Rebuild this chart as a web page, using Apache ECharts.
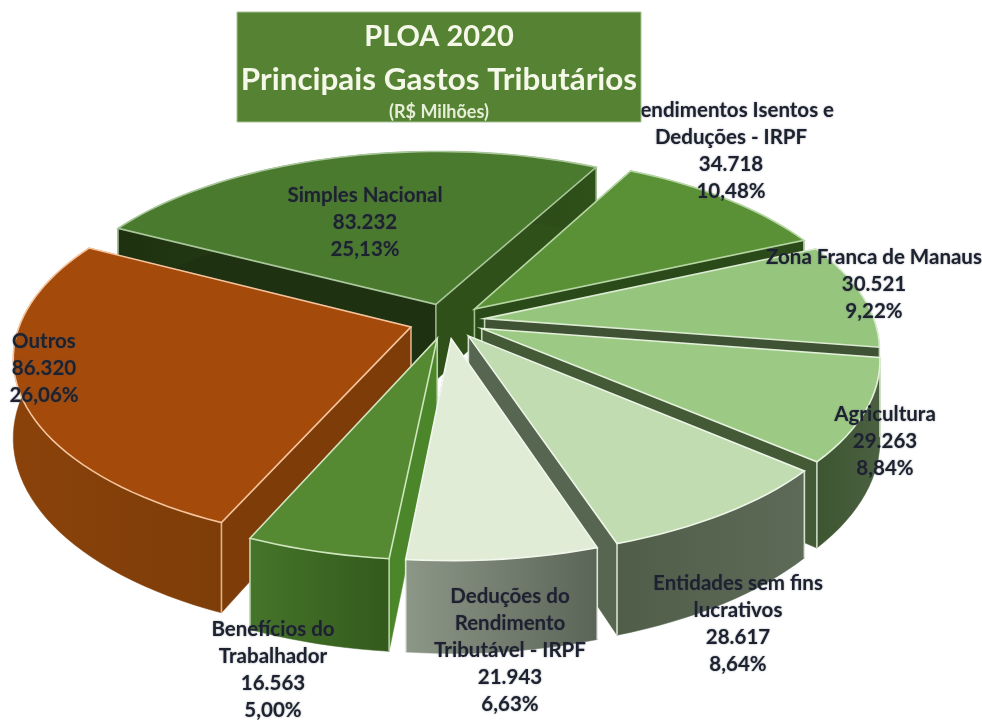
<!DOCTYPE html>
<html>
<head>
<meta charset="utf-8">
<title>PLOA 2020 - Principais Gastos Tributários</title>
<script src="https://cdn.jsdelivr.net/npm/echarts@6/dist/echarts.min.js"></script>
<style>html,body{margin:0;padding:0;background:#fff}#chart{width:982px;height:720px}</style>
</head>
<body>
<div id="chart"></div>
<script>
// Slices in clockwise order, R$ millions
const categories = ['Simples Nacional', 'Rendimentos Isentos e\nDeduções - IRPF', 'Zona Franca de Manaus', 'Agricultura',
  'Entidades sem fins\nlucrativos', 'Deduções do\nRendimento\nTributável - IRPF', 'Benefícios do\nTrabalhador', 'Outros'];
const values = [83232, 34718, 30521, 29263, 28617, 21943, 16563, 86320];
const percentLabels = ['25,13%', '10,48%', '9,22%', '8,84%', '8,64%', '6,63%', '5,00%', '26,06%'];

// Face colours of each slice
const topColors = ['#4a7a2e', '#5a9036', '#96c57e', '#9cca85', '#c1dcb1', '#e0ecd6', '#558a33', '#a44a0b'];
const edgeColors = ['#a9c79a', '#b5d6a2', '#dcecd2', '#e4f1db', '#eef6e8', '#f2f7ee', '#cfe6bf', '#f5c49d'];
const radialColors = [['#1e3110', '#2f5019'], ['#2a4a19', '#2a4a19'], ['#3f5233', '#3f5233'], ['#445a37', '#445a37'],
  ['#566650', '#566650'], ['#8a9484', '#5c6658'], ['#4c862a', '#4c862a'], ['#7d3c08', '#7d3c08']];
const rimColors = [['#1e3110', '#2f5019'], ['#2a4a19', '#2a4a19'], ['#3f5233', '#3f5233'], ['#3e5531', '#4a6040'],
  ['#505e49', '#5d6a57'], ['#8d9788', '#5b6557'], ['#45752a', '#335a1c'], ['#8a420a', '#7e3d08']];

// Label centres in pixels
const labelCentres = [[365, 222], [731, 151], [874, 284], [885, 441], [738, 624], [510, 650], [273, 670], [44, 368]];

// Pie geometry
const centreX = 447, centreY = 321, radius = 390, tilt = 0.465, perspective = 0.155;
const depth = 77, explode = 38, firstAngle = 297.5;

const formatValue = v => String(v).replace(/\B(?=(\d{3})+$)/g, '.');
const project = (x, y, z) => {
  const f = 1 / (1 + perspective * y / radius);
  return [centreX + x * f, centreY - y * tilt * f + z * f];
};

const total = values.reduce((a, b) => a + b, 0);
let running = firstAngle;
const slices = values.map((v, i) => {
  const sweep = v / total * 360;
  const s = { index: i, start: running, end: running + sweep, mid: running + sweep / 2 };
  running += sweep;
  return s;
});
// Slices further back are painted first
const paintOrder = slices.slice()
  .sort((a, b) => Math.cos(b.mid * Math.PI / 180) - Math.cos(a.mid * Math.PI / 180))
  .map(s => s.index);

function sliceGeometry(s, z) {
  const m = s.mid * Math.PI / 180;
  const ox = explode * Math.sin(m), oy = explode * Math.cos(m);
  const arc = [];
  const steps = Math.ceil((s.end - s.start) / 2);
  for (let k = 0; k <= steps; k++) {
    const a = (s.start + (s.end - s.start) * k / steps) * Math.PI / 180;
    arc.push(project(ox + radius * Math.sin(a), oy + radius * Math.cos(a), z));
  }
  return { apex: project(ox, oy, z), arc };
}

const gradient = pair => new echarts.graphic.LinearGradient(0, 0, 1, 0, [
  { offset: 0, color: pair[0] }, { offset: 1, color: pair[1] }
]);

function renderSlice(params, api) {
  const i = api.value(0);
  const s = slices[i];
  const up = sliceGeometry(s, 0), down = sliceGeometry(s, depth);
  const edge = edgeColors[i];
  const last = up.arc.length - 1;
  const flat = (pts, fill) => ({
    type: 'polygon', shape: { points: pts },
    style: { fill, stroke: fill, lineWidth: 0.5 }
  });
  const line = (a, b) => ({
    type: 'polyline', shape: { points: [a, b] },
    style: { stroke: edge, lineWidth: 1.6, fill: 'none', opacity: 0.85 }
  });
  return {
    type: 'group',
    children: [
      flat([up.apex, up.arc[0], down.arc[0], down.apex], radialColors[i][0]),
      flat([up.apex, up.arc[last], down.arc[last], down.apex], radialColors[i][1]),
      flat(up.arc.concat(down.arc.slice().reverse()), gradient(rimColors[i])),
      line(up.apex, down.apex),
      line(up.arc[0], down.arc[0]),
      line(up.arc[last], down.arc[last]),
      {
        type: 'polygon', shape: { points: [up.apex].concat(up.arc) },
        style: { fill: topColors[i], stroke: edge, lineWidth: 1.6, lineJoin: 'miter' }
      }
    ]
  };
}

function renderLabel(params, api) {
  const i = api.value(0);
  return {
    type: 'text', x: labelCentres[i][0], y: labelCentres[i][1],
    style: {
      text: categories[i] + '\n' + formatValue(values[i]) + '\n' + percentLabels[i],
      font: 'bold 20.5px Lato', fill: '#1c2230', align: 'center', verticalAlign: 'middle', lineHeight: 27,
      textShadowColor: 'rgba(70,70,80,0.55)', textShadowBlur: 2
    }
  };
}

const chart = echarts.init(document.getElementById('chart'), null, { renderer: 'canvas' });
chart.setOption({
  animation: false,
  backgroundColor: '#ffffff',
  title: {
    text: '{p|PLOA 2020}\n{a|Principais Gastos Tributários}\n{b|(R$ Milhões)}',
    left: 439, top: 15, textAlign: 'center', z: 6,
    padding: 0,
    textStyle: {
      rich: {
        p: { fontFamily: 'Lato', fontWeight: 'bold', fontSize: 29, color: '#f5f8e9', lineHeight: 43, align: 'center' },
        a: { fontFamily: 'Lato', fontWeight: 'bold', fontSize: 31.4, color: '#f5f8e9', lineHeight: 43, align: 'center' },
        b: { fontFamily: 'Lato', fontWeight: 'bold', fontSize: 18, color: '#e6eed8', lineHeight: 22, align: 'center' }
      }
    }
  },
  graphic: [{
    type: 'rect', z: 5, shape: { x: 237, y: 12, width: 404, height: 110 },
    style: { fill: '#568333', stroke: '#a9c295', lineWidth: 1 }
  }],
  series: [
    { type: 'custom', coordinateSystem: 'none', z: 2, data: paintOrder.map(i => [i]), renderItem: renderSlice, silent: true },
    { type: 'custom', coordinateSystem: 'none', z: 3, data: values.map((v, i) => [i]), renderItem: renderLabel, silent: true }
  ]
});
</script>
</body>
</html>
